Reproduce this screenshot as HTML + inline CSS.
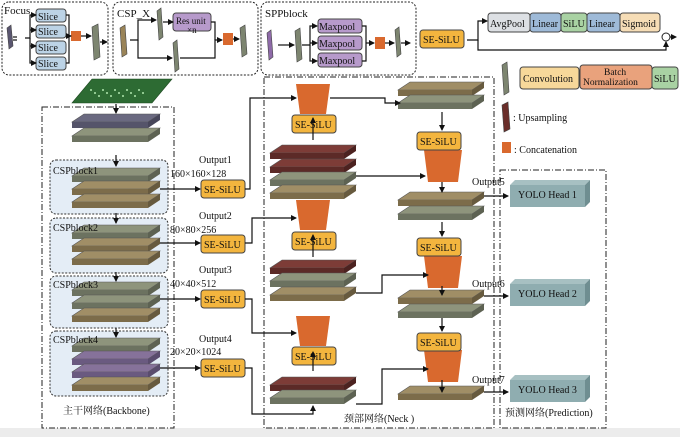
<!DOCTYPE html>
<html><head><meta charset="utf-8"><style>
html,body{margin:0;padding:0;background:#fff;width:680px;height:437px;overflow:hidden}
svg{display:block}
text{font-family:"Liberation Serif","Noto Serif CJK SC",serif;fill:#111}
</style></head><body>
<svg id="s" width="680" height="437" viewBox="0 0 680 437" xmlns="http://www.w3.org/2000/svg">
<defs>
<marker id="a" markerWidth="6" markerHeight="6" refX="5" refY="3" orient="auto" markerUnits="userSpaceOnUse"><path d="M0,0 L6,3 L0,6 z" fill="#111"/></marker>
</defs>
<rect x="0" y="428" width="680" height="9" fill="#ececec"/>
<!-- top boxes -->
<g fill="none" stroke="#222" stroke-width="1" stroke-dasharray="2,1.5">
<rect x="2" y="2" width="106" height="73" rx="7"/>
<rect x="113" y="2" width="145" height="73" rx="7"/>
<rect x="261" y="2" width="155" height="73" rx="7"/>
</g>
<g fill="none" stroke="#222" stroke-width="1" stroke-dasharray="6,2,1,2">
<rect x="42" y="107" width="132" height="321"/>
<rect x="264" y="77" width="230" height="351"/>
<rect x="500" y="170" width="106" height="258"/>
</g>
<text x="4" y="14" font-size="11">Focus</text>
<text x="117" y="17" font-size="11">CSP_X</text>
<text x="265" y="17" font-size="11">SPPblock</text>
<g id="sh"></g>
<g id="ln" fill="none" stroke="#111" stroke-width="1.2"></g>
<g font-size="10">
<text x="38" y="20">Slice</text><text x="38" y="35">Slice</text><text x="38" y="51">Slice</text><text x="38" y="67">Slice</text>
<text x="176" y="24" font-size="9">Res unit</text><text x="187" y="33" font-size="9">×n</text>
<text x="319" y="30">Maxpool</text><text x="319" y="47">Maxpool</text><text x="319" y="64">Maxpool</text>
<text x="490" y="27">AvgPool</text><text x="532" y="27">Linear</text><text x="563" y="27">SiLU</text><text x="589" y="27">Linear</text><text x="622" y="27">Sigmoid</text>
<text x="523" y="82">Convolution</text><text x="604" y="75" font-size="9.5">Batch</text><text x="583" y="85" font-size="9.5">Normalization</text><text x="654" y="82">SiLU</text>
<text x="513" y="121">: Upsampling</text><text x="514" y="153">: Concatenation</text>
<text x="53" y="174">CSPblock1</text><text x="53" y="231">CSPblock2</text><text x="53" y="288">CSPblock3</text><text x="53" y="343">CSPblock4</text>
<text x="199" y="163">Output1</text><text x="170" y="177">160×160×128</text>
<text x="199" y="219">Output2</text><text x="170" y="233">80×80×256</text>
<text x="199" y="273">Output3</text><text x="170" y="287">40×40×512</text>
<text x="199" y="342">Output4</text><text x="170" y="355">20×20×1024</text>
<text x="472" y="185">Output5</text><text x="472" y="287">Output6</text><text x="472" y="383">Output7</text>
<text x="518" y="198">YOLO Head 1</text><text x="518" y="297">YOLO Head 2</text><text x="518" y="393">YOLO Head 3</text>
<text x="63" y="414">主干网络(Backbone)</text>
<text x="344" y="422">颈部网络(Neck )</text>
<text x="505" y="416">预测网络(Prediction)</text>
</g>
<g id="se" font-size="10"></g>
</svg>
<script>
var NS="http://www.w3.org/2000/svg",sh=document.getElementById('sh'),ln=document.getElementById('ln');
function el(p,t,a){var e=document.createElementNS(NS,t);for(var k in a)e.setAttribute(k,a[k]);p.insertBefore(e,p===sh?null:null);p.appendChild(e);return e;}
function R(x,y,w,h,f,rx,st){el(sh,'rect',{x:x,y:y,width:w,height:h,fill:f,rx:rx||0,stroke:st||'none','stroke-width':1});}
function P(pts,f,st){el(sh,'polygon',{points:pts,fill:f,stroke:st||'none','stroke-width':0.6});}
function L(d,arr){el(ln,'path',{d:d,'marker-end':arr===false?'':'url(#a)'});}
var C={g:['#8e947c','#6c7260','#5d6252'],t:['#a08e66','#7c6c4a','#675a3e'],r:['#7d3c37','#5c2a27','#4c2220'],p:['#86729a','#6a5a80','#5a4c6e'],b:['#6a6980','#55546a','#47465a']};
function slab(x,y,w,c){var k=C[c];P((x)+','+(y+8)+' '+(x+12)+','+y+' '+(x+w)+','+y+' '+(x+w-12)+','+(y+8),k[0],'#555');R(x,y+8,w-12,6,k[1]);P((x+w-12)+','+(y+8)+' '+(x+w)+','+y+' '+(x+w)+','+(y+6)+' '+(x+w-12)+','+(y+14),k[2]);}
function fm(x,y,w,h,c){P(x+','+(y+3)+' '+(x+w-2)+','+y+' '+(x+w)+','+(y+h-3)+' '+(x+2)+','+(y+h),c,'#444');}
function trap(x,y,w,h){P((x)+','+y+' '+(x+w)+','+y+' '+(x+w-4)+','+(y+h)+' '+(x+4)+','+(y+h),'#d9692e');}
function box(x,y,w,h,f){R(x,y,w,h,f,3,'#444');}
// top row
fm(7,25,6,24,'#5a5670');
for(var i=0;i<4;i++)box(36,9+i*16,30,13,'#bcd3e6');
R(71,31,10,10,'#d9692e');fm(92,24,8,36,'#7d8570');
fm(120,25,7,32,'#9a8458');fm(157,8,6,32,'#7d8570');box(173,13,38,18,'#b79acb');fm(173,40,6,32,'#7d8570');
R(223,33,10,12,'#d9692e');fm(240,25,7,32,'#7d8570');
fm(267,30,6,30,'#8e6aa8');fm(295,28,7,34,'#7d8570');
for(i=0;i<3;i++)box(318,19+i*17,44,14,'#b79acb');
R(375,37,10,12,'#d9692e');fm(395,27,6,30,'#7d8570');
box(488,13,42,19,'#dde0e4');box(530,13,31,19,'#9ebad8');box(561,13,26,19,'#a9d2a3');box(587,13,33,19,'#9ebad8');box(620,13,40,19,'#f6ddb6');
el(sh,'circle',{cx:666,cy:37,r:4,fill:'#fff',stroke:'#222'});
// legend
fm(502,62,7,33,'#7d8570');box(520,67,59,22,'#f7d89a');box(580,65,72,24,'#e9a27c');box(652,67,26,22,'#a9d2a3');
fm(502,102,8,30,'#6a2e2a');R(502,142,9,11,'#d9692e');
// pcb
P('72,103 92,79 172,79 152,103','#2d6b33','#1f4a22');
for(i=0;i<14;i++)R(90+i*4,89+(i%3)*3,2,2,'#8fc88f');
// CSP block backgrounds
[[50,160,118,54],[50,218,118,55],[50,276,118,52],[50,331,118,65]].forEach(function(b){el(sh,'rect',{x:b[0],y:b[1],width:b[2],height:b[3],rx:6,fill:'#e4edf6',stroke:'#333','stroke-dasharray':'2,1.5'});});
slab(72,114,88,'b');slab(72,128,88,'g');
slab(72,168,88,'g');slab(72,181,88,'t');slab(72,194,88,'t');
slab(72,225,88,'g');slab(72,238,88,'t');slab(72,251,88,'t');
slab(72,282,88,'g');slab(72,295,88,'g');slab(72,308,88,'t');
slab(72,338,88,'g');slab(72,351,88,'p');slab(72,364,88,'p');slab(72,377,88,'t');
// neck left
trap(296,84,34,30);trap(296,200,34,30);trap(296,316,34,30);
slab(270,145,86,'r');slab(270,159,86,'r');slab(270,172,86,'g');slab(270,185,86,'t');
slab(270,260,86,'r');slab(270,273,86,'g');slab(270,287,86,'t');
slab(270,377,86,'r');slab(270,390,86,'g');
// neck right
slab(398,82,86,'t');slab(398,95,86,'g');
slab(398,192,86,'t');slab(398,206,86,'g');
slab(398,290,86,'t');slab(398,304,86,'g');
slab(398,386,86,'t');
trap(424,150,38,32);trap(424,256,38,32);trap(424,350,38,32);
// yolo heads
[180,279,375].forEach(function(y){P('510,'+(y+5)+' 515,'+y+' 590,'+y+' 585,'+(y+5),'#a7c0c2');R(510,y+5,75,22,'#8fadb0');P('585,'+(y+5)+' 590,'+y+' 590,'+(y+22)+' 585,'+(y+27),'#6f8e91');});
// SE-SiLU boxes
var se=document.getElementById('se');
[[420,30],[201,180],[201,235],[201,290],[201,359],[292,115],[292,232],[292,347],[417,132],[417,238],[417,333]].forEach(function(p){box(p[0],p[1],44,18,'#f3b53e');var t=el(se,'text',{x:p[0]+3,y:p[1]+13});t.textContent='SE-SiLU';});
// lines
L('M13,37 H17',false);L('M13,40 H17',false);
L('M25,38 H30 V15 H36');L('M30,30 H36');L('M30,46 H36');L('M30,38 V63 H36');
L('M66,15 H69 V63 H66',false);L('M69,36 H71');L('M81,36 H91');L('M100,42 H107');
L('M130,40 H138 V20 H156');L('M138,40 V58 H172');L('M163,22 H173');L('M211,22 H215 V40',false);L('M180,58 H215 V40 H222');L('M233,39 H239');
L('M278,45 H294');L('M302,45 H310 V26 H317');L('M310,43 H317');L('M310,45 V61 H317');L('M362,26 H366 V61 H362',false);L('M366,43 H374');L('M385,43 H394');L('M401,43 H410');
L('M467,40 H478 V21 H487');L('M478,40 V50 H666 V42');L('M670,37 H676');
L('M116,104 V113');L('M116,155 V166');L('M116,213 V223');L('M116,272 V281');L('M116,328 V337');
L('M160,189 H200');L('M160,243 H200');L('M160,299 H200');L('M160,368 H200');
L('M245,189 H250 V98 H296');L('M245,243 H252 V218 H296');L('M245,299 H252 V333 H296');L('M245,368 H252 V414 H313 V406');
L('M313,371 V352');L('M313,257 V235');L('M313,140 V118');
L('M330,98 H385 V103 H400');L('M356,176 H425');L('M356,293 H382 V275 H428');L('M356,404 H382 V369 H428');
L('M442,112 V130');L('M442,182 V192');L('M442,222 V236');L('M442,286 V295');L('M442,318 V331');L('M442,380 V392');
L('M484,196 H508');L('M484,296 H508');L('M484,392 H508');
</script>
</body></html>
